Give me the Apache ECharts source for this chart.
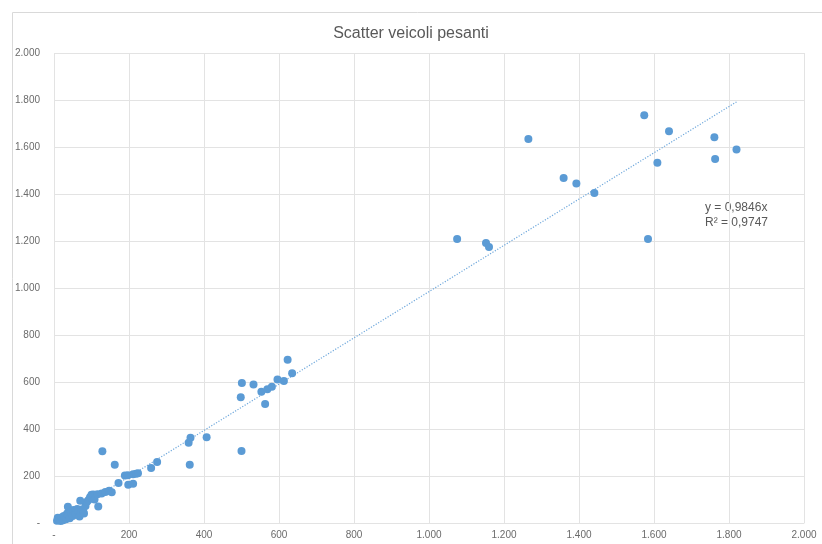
<!DOCTYPE html>
<html>
<head>
<meta charset="utf-8">
<script src="https://cdn.jsdelivr.net/npm/echarts@6/dist/echarts.min.js"></script>
<style>
  html, body { margin: 0; padding: 0; background: #fff; }
  #chart { width: 822px; height: 544px; }
</style>
</head>
<body>
<div id="chart"></div>
<script>
// x = first value, y = second value (veicoli pesanti)
const xValues = [
  8, 10, 14, 18, 21, 24, 26, 29, 32, 35, 37, 38, 42, 45, 47, 50, 52, 56, 58, 62,
  65, 68, 70, 74, 78, 80, 84, 88, 92, 96, 100, 105, 108, 116, 118, 127, 137, 147, 154,
  129, 162, 172, 189, 197, 211, 219, 224, 198, 211, 259, 275, 359, 364, 362, 407,
  500, 498, 501, 532, 553, 563, 569, 581, 596, 613, 623, 635,
  1075, 1152, 1160, 1265, 1359, 1393, 1441, 1574, 1584, 1609, 1640, 1761, 1763, 1820
];
const yValues = [
  10, 22, 18, 8, 24, 12, 30, 28, 16, 40, 69, 35, 20, 48, 43, 30, 55, 50, 38, 60,
  50, 28, 95, 57, 50, 40, 72, 90, 98, 110, 120, 121, 100, 122, 70, 126, 132, 137, 131,
  305, 248, 170, 202, 203, 207, 210, 212, 163, 167, 234, 260, 342, 363, 248, 365,
  306, 535, 596, 589, 559, 506, 569, 580, 611, 604, 695, 637,
  1208, 1191, 1175, 1634, 1468, 1445, 1404, 1735, 1208, 1533, 1667, 1641, 1549, 1589
];
const slope = 0.9846;
const rSquared = '0,9747';
const axisTicks = [0, 200, 400, 600, 800, 1000, 1200, 1400, 1600, 1800, 2000];

const points = xValues.map((x, i) => [x, yValues[i]]);
const xMax = Math.max(...xValues);
const trend = [[0, 0], [xMax, slope * xMax]];

const fmt = v => (v === 0 ? '-' : String(v).replace(/\B(?=(\d{3})+(?!\d))/g, '.'));

const textColor = '#595959';
const gridColor = '#e3e3e3';
const pointColor = '#5b9bd5';

const chart = echarts.init(document.getElementById('chart'));

const axisCommon = {
  type: 'value',
  min: axisTicks[0],
  max: axisTicks[axisTicks.length - 1],
  interval: axisTicks[1] - axisTicks[0],
  axisTick: { show: false },
  splitLine: { lineStyle: { color: gridColor, width: 1 } },
  axisLabel: {
    color: '#6b6b6b',
    fontFamily: 'Liberation Sans',
    fontSize: 10,
    formatter: fmt,
  },
};

chart.setOption({
  animation: false,
  title: {
    text: 'Scatter veicoli pesanti',
    left: 'center',
    top: 21,
    textStyle: {
      color: textColor,
      fontFamily: 'Liberation Sans',
      fontWeight: 'normal',
      fontSize: 16,
    },
  },
  grid: { left: 54, right: 18, top: 53, bottom: 21, containLabel: false },
  xAxis: {
    ...axisCommon,
    axisLine: { show: true, lineStyle: { color: gridColor } },
    axisLabel: { ...axisCommon.axisLabel, margin: 7 },
  },
  yAxis: {
    ...axisCommon,
    axisLine: { show: false },
    axisLabel: { ...axisCommon.axisLabel, margin: 14 },
  },
  graphic: [
    {
      type: 'rect',
      shape: { x: 12.5, y: 12.5, width: 830, height: 560 },
      style: { fill: 'none', stroke: '#d9d9d9', lineWidth: 1 },
      z: -10,
    },
    {
      type: 'text',
      left: 705,
      top: 200,
      style: {
        text: 'y = ' + String(slope).replace('.', ',') + 'x\nR² = ' + rSquared,
        fill: textColor,
        font: '12px "Liberation Sans"',
        lineHeight: 15,
      },
    },
  ],
  series: [
    {
      type: 'line',
      data: trend,
      showSymbol: false,
      silent: true,
      lineStyle: { color: '#6fa8dc', width: 1.2, type: [1.2, 1.6] },
      z: 1,
    },
    {
      type: 'scatter',
      data: points,
      symbolSize: 8,
      itemStyle: { color: pointColor, opacity: 1 },
      z: 2,
    },
  ],
});
</script>
</body>
</html>
